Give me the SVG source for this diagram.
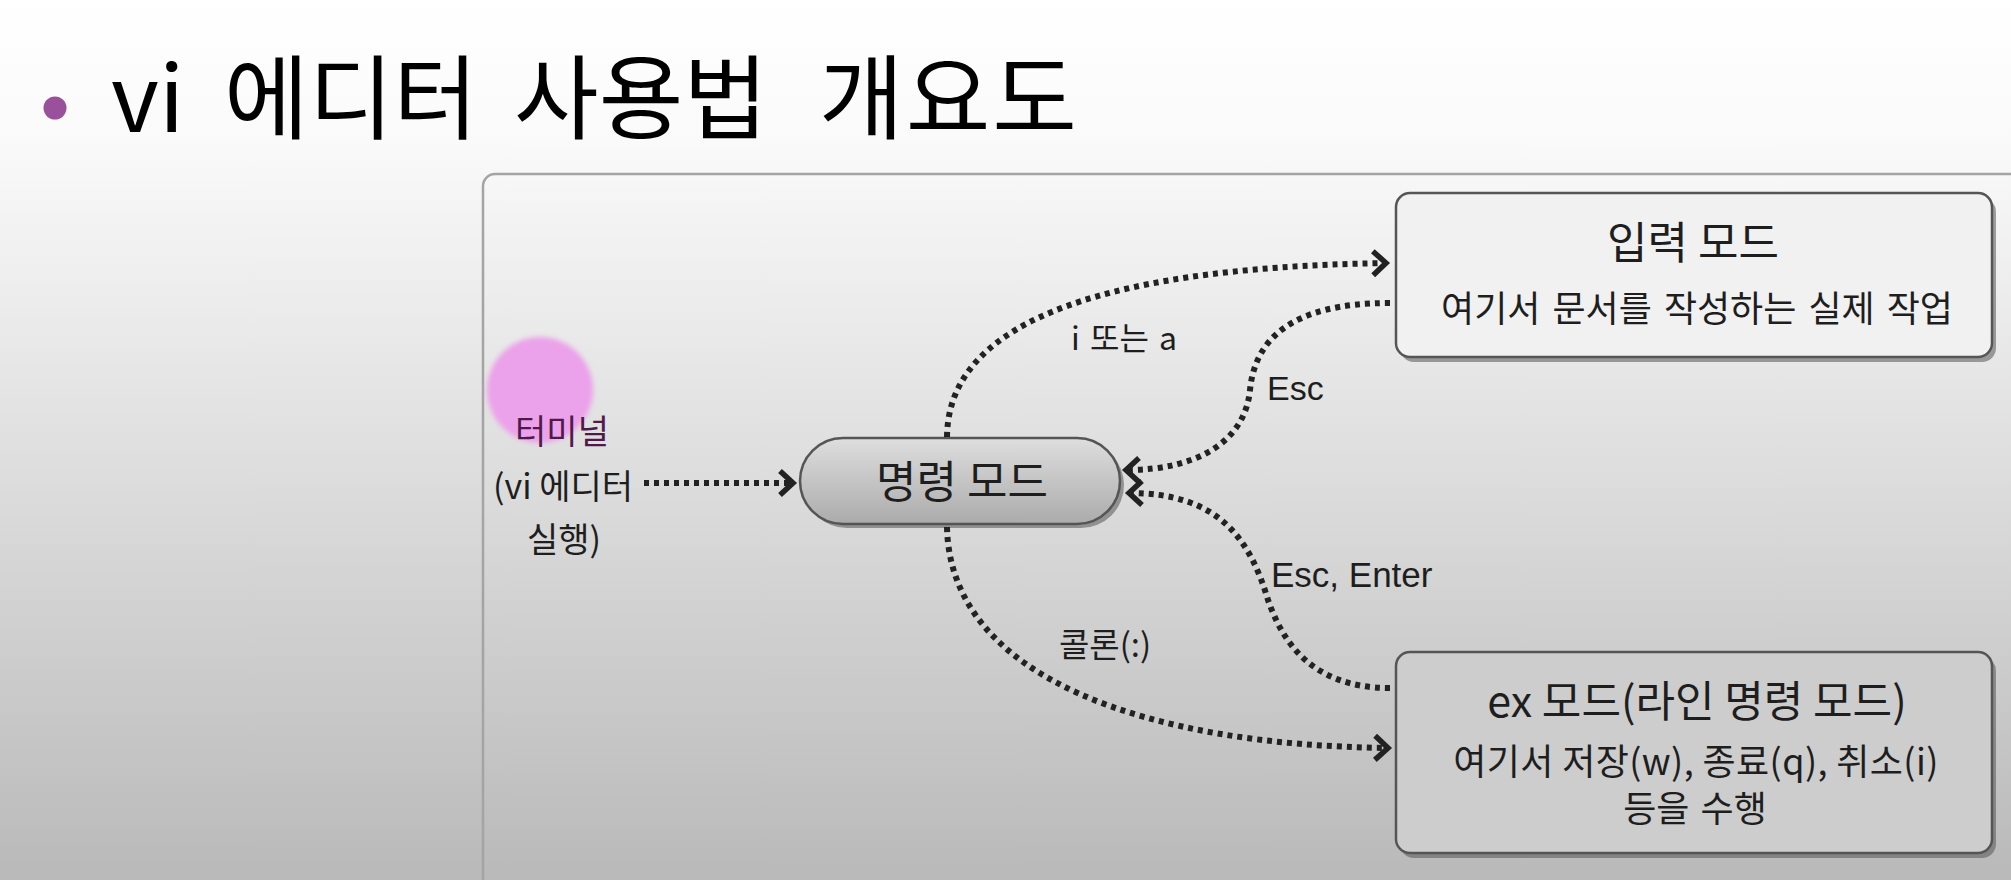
<svg xmlns="http://www.w3.org/2000/svg" width="2011" height="880" viewBox="0 0 2011 880">
<defs>
<linearGradient id="bg" x1="0" y1="0" x2="0" y2="1">
<stop offset="0" stop-color="#ffffff"/>
<stop offset="0.16" stop-color="#fafafa"/>
<stop offset="0.45" stop-color="#e4e4e4"/>
<stop offset="1" stop-color="#b9b9b9"/>
</linearGradient>
<linearGradient id="pill" x1="0" y1="0" x2="0" y2="1">
<stop offset="0" stop-color="#dedede"/>
<stop offset="1" stop-color="#ababab"/>
</linearGradient>
<filter id="blur" x="-20%" y="-20%" width="140%" height="140%"><feGaussianBlur stdDeviation="2.5"/></filter>
<marker id="chev" markerUnits="userSpaceOnUse" markerWidth="30" markerHeight="30" refX="0" refY="0" orient="auto" style="overflow:visible">
<path d="M-13,-12 L0,0 L-13,12" fill="none" stroke="#222" stroke-width="5.5"/>
</marker>
<style>
.ko{font-family:"Noto Sans CJK KR","Noto Sans",sans-serif;fill:#1e1e1e}
.la{font-family:"Liberation Sans",Arial,sans-serif;fill:#1e1e1e}
.dot{fill:none;stroke:#222;stroke-width:6;stroke-dasharray:5 5}
.box{stroke:#555;stroke-width:2.5}
.shadow{fill:#555;opacity:0.55}
</style>
</defs>
<rect x="0" y="0" width="2011" height="880" fill="url(#bg)"/>
<g id="title">
<circle cx="55" cy="108" r="11.5" fill="#9a519c"/>
<text class="ko" font-size="92" y="132" style="fill:#000"><tspan x="111">vi</tspan><tspan x="224">에디터</tspan><tspan x="514">사용법</tspan><tspan x="819" letter-spacing="2">개요도</tspan></text>
</g>
<g id="panel">
<rect x="483" y="174" width="1560" height="740" rx="12" fill="none" stroke="#a4a4a4" stroke-width="2.5"/>
</g>
<g id="terminal">
<ellipse cx="540" cy="390" rx="53" ry="53" fill="#eba2ea" filter="url(#blur)"/>
<text class="ko" font-size="34" text-anchor="middle" x="562" y="444" style="fill:#4f1a4b">터미널</text>
<text class="ko" font-size="34" text-anchor="middle" x="563" y="499">(vi 에디터</text>
<text class="ko" font-size="34" text-anchor="middle" x="564" y="552">실행)</text>
</g>
<g id="command-mode">
<rect x="804" y="442" width="320" height="86" rx="43" class="shadow"/>
<rect x="800" y="438" width="320" height="86" rx="43" fill="url(#pill)" stroke="#555" stroke-width="2.5"/>
<text class="ko" font-size="44" text-anchor="middle" x="962" y="498">명령 모드</text>
</g>
<g id="input-mode">
<rect x="1400" y="198" width="596" height="164" rx="14" class="shadow"/>
<rect x="1396" y="193" width="596" height="164" rx="14" class="box" fill="#f1f1f1"/>
<text class="ko" font-size="44" text-anchor="middle" x="1693" y="259">입력 모드</text>
<text class="ko" font-size="36" text-anchor="middle" x="1697" y="322" word-spacing="4">여기서 문서를 작성하는 실제 작업</text>
</g>
<g id="ex-mode">
<rect x="1400" y="657" width="596" height="201" rx="14" class="shadow"/>
<rect x="1396" y="652" width="596" height="201" rx="14" class="box" fill="#cdcdcd"/>
<text class="ko" font-size="43" text-anchor="middle" x="1697" y="717">ex 모드(라인 명령 모드)</text>
<text class="ko" font-size="36" text-anchor="middle" x="1696" y="775" letter-spacing="0.4">여기서 저장(w), 종료(q), 취소(i)</text>
<text class="ko" font-size="36" text-anchor="middle" x="1695" y="822" word-spacing="3">등을 수행</text>
</g>
<g id="connectors">
<path class="dot" d="M644 483 L793 483" marker-end="url(#chev)"/>
<path class="dot" d="M947 437 C948 330 1080 268 1386 263" marker-end="url(#chev)"/>
<path class="dot" d="M1390 303 C1290 303 1255 340 1250 390 C1245 440 1200 470 1126 470" marker-end="url(#chev)"/>
<path class="dot" d="M1390 688 C1310 688 1282 640 1268 600 C1250 540 1220 493 1129 493" marker-end="url(#chev)"/>
<path class="dot" d="M947 527 C950 680 1150 745 1388 748" marker-end="url(#chev)"/>
<text class="ko" font-size="32" x="1071" y="350" word-spacing="3">i 또는 a</text>
<text class="la" font-size="34" x="1267" y="400">Esc</text>
<text class="la" font-size="35" x="1271" y="587">Esc, Enter</text>
<text class="ko" font-size="33" x="1059" y="657">콜론(:)</text>
</g>
</svg>
